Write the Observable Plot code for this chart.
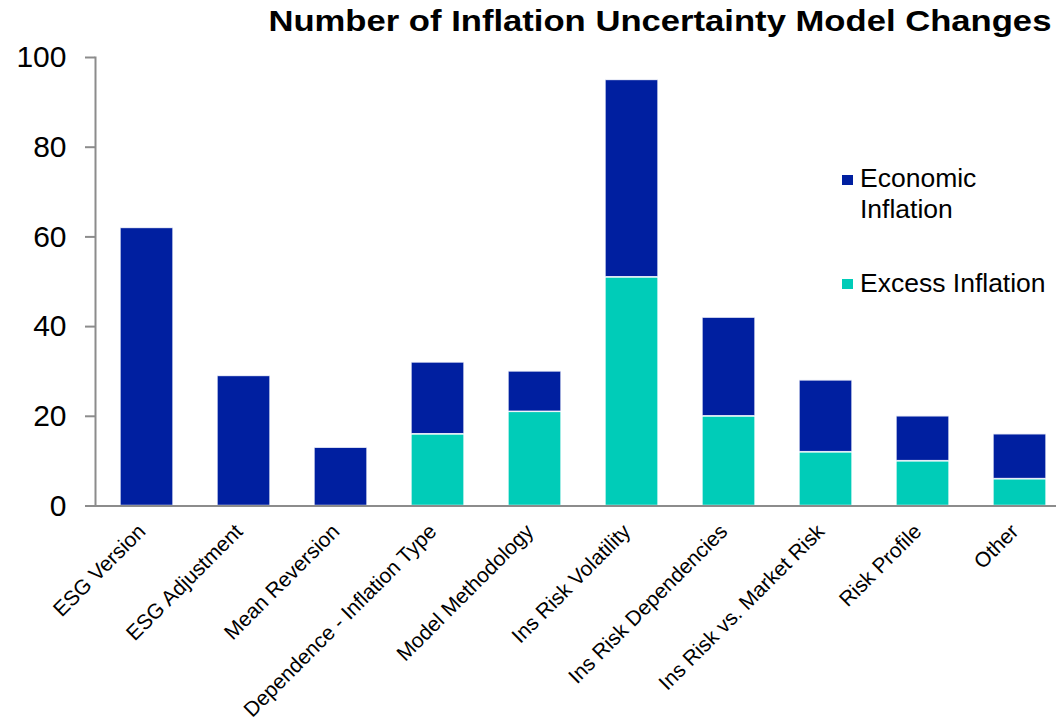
<!DOCTYPE html>
<html>
<head>
<meta charset="utf-8">
<script src="https://cdn.jsdelivr.net/npm/d3@7"></script>
<script src="https://cdn.jsdelivr.net/npm/@observablehq/plot@0.6"></script>
<style>
  html, body { margin: 0; padding: 0; background: #fff; }
  body { font-family: "Liberation Sans", Arial, sans-serif; }
  #wrap { position: relative; width: 1056px; height: 718px; overflow: hidden; }
  #title {
    position: absolute; right: 5px; top: 6px;
    font: bold 30px/30px "Liberation Sans", Arial, sans-serif;
    color: #000; white-space: nowrap; transform-origin: right center;
  }
  .leg { position: absolute; font: 26.5px/31px "Liberation Sans", Arial, sans-serif; color: #000; }
  .sw { position: absolute; width: 11px; height: 10px; }
  svg [aria-label="y-axis tick"] { stroke: #8c8c8c; stroke-width: 2; }
</style>
</head>
<body>
<div id="wrap">
  <div id="chart"></div>
  <div id="title">Number of Inflation Uncertainty Model Changes</div>
  <div id="legend"></div>
</div>
<script>
// Categories of model change
const categories = [
  "ESG Version",
  "ESG Adjustment",
  "Mean Reversion",
  "Dependence - Inflation Type",
  "Model Methodology",
  "Ins Risk Volatility",
  "Ins Risk Dependencies",
  "Ins Risk vs. Market Risk",
  "Risk Profile",
  "Other"
];

// Counts per series (stacked: excess at the bottom, economic on top)
const excessInflation   = [0, 0, 0, 16, 21, 51, 20, 12, 10, 6];
const economicInflation = [62, 29, 13, 16, 9, 44, 22, 16, 10, 10];

const seriesNames = ["Excess Inflation", "Economic Inflation"];
const seriesColors = ["#00CCB8", "#001FA0"];
const yTicks = [0, 20, 40, 60, 80, 100];

// Long-format table for the stacked bars
const rows = [];
categories.forEach((c, i) => {
  rows.push({category: c, series: seriesNames[0], value: excessInflation[i]});
  rows.push({category: c, series: seriesNames[1], value: economicInflation[i]});
});

const chart = Plot.plot({
  width: 1056,
  height: 718,
  marginTop: 57,
  marginBottom: 212.5,
  marginLeft: 95,
  marginRight: 0,
  style: {fontFamily: "Liberation Sans, Arial, sans-serif", color: "#000", background: "#fff"},
  x: {domain: categories, range: [94.3, 1072.1], paddingInner: 0.45, paddingOuter: 0.225},
  y: {domain: [0, 100]},
  color: {domain: seriesNames, range: seriesColors},
  marks: [
    Plot.barY(rows.filter(d => d.value > 0), {
      x: "category", y: "value", fill: "series",
      stroke: "white", strokeWidth: 1.5, strokeOpacity: 0.85
    }),
    Plot.frame({anchor: "left", stroke: "#8c8c8c", strokeWidth: 2}),
    Plot.axisY({ticks: yTicks, tickSize: 10, tickPadding: 19, fontSize: 30, label: null}),
    Plot.axisX({tickSize: 0, tickRotate: -45, tickPadding: 22, dx: -5, fontSize: 21, label: null}),
    Plot.ruleY([0], {stroke: "#8c8c8c", strokeWidth: 2})
  ]
});
document.getElementById("chart").appendChild(chart);

// Stretch the title to its full span
const title = document.getElementById("title");
const w = title.getBoundingClientRect().width;
title.style.transform = `scaleX(${783 / w})`;

// Legend, listed top to bottom: economic then excess
const legend = document.getElementById("legend");
const legendItems = [
  {label: "Economic<br>Inflation", color: seriesColors[1], top: 175, textTop: 163},
  {label: "Excess Inflation", color: seriesColors[0], top: 279, textTop: 268}
];
legendItems.forEach(it => {
  const sw = document.createElement("div");
  sw.className = "sw";
  sw.style.left = "842px";
  sw.style.top = it.top + "px";
  sw.style.background = it.color;
  legend.appendChild(sw);
  const tx = document.createElement("div");
  tx.className = "leg";
  tx.style.left = "860px";
  tx.style.top = it.textTop + "px";
  tx.innerHTML = it.label;
  legend.appendChild(tx);
});
</script>
</body>
</html>
